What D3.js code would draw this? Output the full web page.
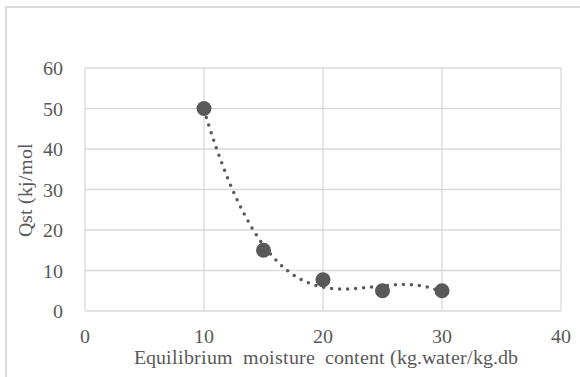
<!DOCTYPE html>
<html><head><meta charset="utf-8">
<script src="https://cdn.jsdelivr.net/npm/d3@7"></script>
<style>
@font-face{font-family:"ChartSerif";src:local("Liberation Serif"),local("LiberationSerif"),local("Liberation Serif Regular"),local("Tinos"),local("Times New Roman");}
</style>
</head><body>
<script>
const xValues = [10, 15, 20, 25, 30];
const yValues = [50, 15, 7.7, 5, 5];
const xTicks = [0, 10, 20, 30, 40];
const yTicks = [0, 10, 20, 30, 40, 50, 60];
const xTitle = "Equilibrium\u00a0 moisture\u00a0 content (kg.water/kg.db";
const yTitle = "Qst (kj/mol";

const W = 580, H = 377;
d3.select("body").style("margin", "0px");
const svg = d3.select("body").append("svg").attr("width", W).attr("height", H)
  .style("display", "block");
const grey = "#595959", grid = "#d9d9d9";
const fs = 20;
const ff = '"ChartSerif", "Liberation Serif", "Times New Roman", Tinos';

function txt(sel) {
  return sel.style("font-family", ff).attr("font-size", fs).attr("fill", grey);
}

// outer chart border
svg.append("rect").attr("x", 6).attr("y", 7).attr("width", 600).attr("height", 400)
  .attr("fill", "none").attr("stroke", grid).attr("stroke-width", 2);

const x = d3.scaleLinear().domain([0, 40]).range([85, 561]);
const y = d3.scaleLinear().domain([0, 60]).range([311, 68]);

// gridlines
svg.append("g").selectAll("line").data(yTicks).join("line")
  .attr("x1", x(0)).attr("x2", x(40)).attr("y1", d => y(d)).attr("y2", d => y(d))
  .attr("stroke", grid).attr("stroke-width", 1.3);
svg.append("g").selectAll("line").data(xTicks).join("line")
  .attr("x1", d => x(d)).attr("x2", d => x(d)).attr("y1", y(0)).attr("y2", y(60))
  .attr("stroke", grid).attr("stroke-width", 1.3);

// tick labels
txt(svg.append("g").selectAll("text").data(yTicks).join("text")
  .attr("x", 63).attr("y", d => y(d)).attr("dy", "0.35em").attr("text-anchor", "end"))
  .text(d => d);
txt(svg.append("g").selectAll("text").data(xTicks).join("text")
  .attr("x", d => x(d)).attr("y", 343).attr("text-anchor", "middle"))
  .text(d => d);

// axis titles
txt(svg.append("text").attr("x", 326).attr("y", 364).attr("text-anchor", "middle"))
  .text(xTitle);
txt(svg.append("text").attr("transform", "translate(32,190) rotate(-90)").attr("text-anchor", "middle"))
  .text(yTitle);

// cubic least-squares trendline (computed from the data)
function polyfit(xs, ys, deg) {
  const n = deg + 1;
  const A = Array.from({length: n}, () => new Array(n + 1).fill(0));
  for (let i = 0; i < n; i++) {
    for (let j = 0; j < n; j++) A[i][j] = d3.sum(xs, v => Math.pow(v, i + j));
    A[i][n] = d3.sum(xs, (v, k) => Math.pow(v, i) * ys[k]);
  }
  for (let c = 0; c < n; c++) {
    let p = c;
    for (let r = c + 1; r < n; r++) if (Math.abs(A[r][c]) > Math.abs(A[p][c])) p = r;
    [A[c], A[p]] = [A[p], A[c]];
    for (let r = 0; r < n; r++) if (r !== c) {
      const f = A[r][c] / A[c][c];
      for (let k = c; k <= n; k++) A[r][k] -= f * A[c][k];
    }
  }
  return A.map((row, i) => row[n] / row[i]);
}
const xm = xValues.map(v => (v - 20) / 5);
const coef = polyfit(xm, yValues, 3);
const f = v => { const t = (v - 20) / 5; return coef.reduce((s, c, i) => s + c * Math.pow(t, i), 0); };
const curve = d3.range(10, 30.001, 0.25).map(v => [v, f(v)]);
svg.append("path").datum(curve)
  .attr("d", d3.line().x(d => x(d[0])).y(d => y(d[1])))
  .attr("fill", "none").attr("stroke", grey).attr("stroke-width", 3.5)
  .attr("stroke-linecap", "round").attr("stroke-dasharray", "0 8");

// markers
svg.append("g").selectAll("circle").data(xValues).join("circle")
  .attr("cx", d => x(d)).attr("cy", (d, i) => y(yValues[i])).attr("r", 7.5)
  .attr("fill", grey);
</script>
</body></html>
